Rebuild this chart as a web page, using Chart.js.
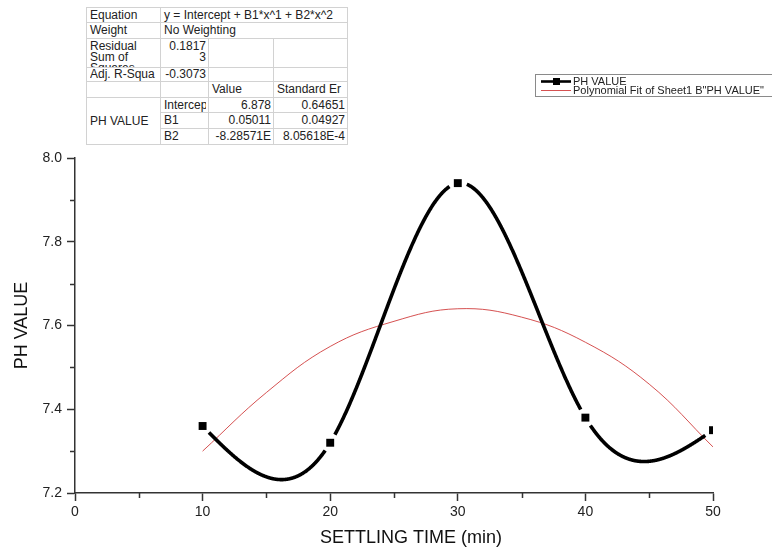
<!DOCTYPE html>
<html>
<head>
<meta charset="utf-8">
<script src="https://cdn.jsdelivr.net/npm/chart.js@4/dist/chart.umd.min.js"></script>
<style>
  html, body { margin: 0; padding: 0; background: #fff; }
  #wrap { position: relative; width: 772px; height: 552px; }
  #chart { position: absolute; left: 0; top: 0; }
  #fit {
    position: absolute; left: 86px; top: 7px; width: 261px;
    border-collapse: collapse; table-layout: fixed;
    font: 12px "Liberation Sans", Arial, sans-serif; color: #222;
    border: 1px solid #8a8a8a; background: #fff;
  }
  #fit td { border: 1px solid #d2d2d2; padding: 0 2px 0 3px; white-space: nowrap; overflow: hidden; vertical-align: middle; line-height: 13px; }
  #fit td.r { text-align: right; }
  #fit .clip { overflow: hidden; white-space: nowrap; }
  #fit .multi { line-height: 11px; height: 28px; overflow: hidden; padding-top: 2px; box-sizing: border-box; }
</style>
</head>
<body>
<div id="wrap">
  <canvas id="chart" width="772" height="552"></canvas>
  <table id="fit">
    <colgroup><col style="width:74px"><col style="width:48px"><col style="width:65px"><col style="width:74px"></colgroup>
    <tbody id="fitBody"></tbody>
  </table>
</div>
<script>
// Measured pH against settling time
const settlingTime = [10, 20, 30, 40, 50];
const phValue = [7.36, 7.32, 7.94, 7.38, 7.35];

// Quadratic fit curve, read at 5-minute steps
const fitTime = [10, 15, 20, 25, 30, 35, 40, 45, 50];
const fitValue = [7.30, 7.44, 7.55, 7.61, 7.64, 7.62, 7.56, 7.46, 7.31];

// Axis ranges and tick steps
const xRange = [0, 50];
const yRange = [7.2, 8.0];
const xMajorStep = 10;
const yMajorStep = 0.2;

// Fit report
const fitEquation = 'y = Intercept + B1*x^1 + B2*x^2';
const fitWeight = 'No Weighting';
const residualLabel = ['Residual', 'Sum of', 'Squares'];
const residualSS = ['0.1817', '3'];
const adjRSquare = '-0.3073';
const paramNames = ['Intercep', 'B1', 'B2'];
const paramValues = ['6.878', '0.05011', '-8.28571E'];
const paramErrors = ['0.64651', '0.04927', '8.05618E-4'];

const legendLabels = ['PH VALUE', 'Polynomial Fit of Sheet1 B"PH VALUE"'];
const xTitle = 'SETTLING TIME (min)';
const yTitle = 'PH VALUE';

const FONT = '"Liberation Sans", Arial, sans-serif';
const FIT_RED = 'rgba(208,62,62,0.9)';

// ---- fit report table ----
(function buildTable() {
  const rows = [];
  const h = [15, 16, 28, 14, 16, 15, 16, 16];
  rows.push(`<tr style="height:${h[0]}px"><td>Equation</td><td colspan="3">${fitEquation}</td></tr>`);
  rows.push(`<tr style="height:${h[1]}px"><td>Weight</td><td colspan="3">${fitWeight}</td></tr>`);
  rows.push(`<tr style="height:${h[2]}px"><td style="vertical-align:top"><div class="multi">${residualLabel.join('<br>')}</div></td>` +
            `<td class="r" style="vertical-align:top"><div class="multi">${residualSS.join('<br>')}</div></td><td></td><td></td></tr>`);
  rows.push(`<tr style="height:${h[3]}px"><td><div class="clip">Adj. R-Squa</div></td><td class="r">${adjRSquare}</td><td></td><td></td></tr>`);
  rows.push(`<tr style="height:${h[4]}px"><td></td><td></td><td>Value</td><td><div class="clip">Standard Er</div></td></tr>`);
  for (let i = 0; i < paramNames.length; i++) {
    const first = i === 0 ? `<td rowspan="${paramNames.length}">PH VALUE</td>` : '';
    rows.push(`<tr style="height:${h[5 + i]}px">${first}<td><div class="clip">${paramNames[i]}</div></td>` +
              `<td class="r">${paramValues[i]}</td><td class="r">${paramErrors[i]}</td></tr>`);
  }
  document.getElementById('fitBody').innerHTML = rows.join('');
})();

// ---- natural cubic spline through the measured points ----
function naturalSpline(xs, ys) {
  const n = xs.length;
  const h = [];
  for (let i = 0; i < n - 1; i++) h.push(xs[i + 1] - xs[i]);
  const a = new Array(n).fill(0), b = new Array(n).fill(1), c = new Array(n).fill(0), d = new Array(n).fill(0);
  for (let i = 1; i < n - 1; i++) {
    a[i] = h[i - 1]; b[i] = 2 * (h[i - 1] + h[i]); c[i] = h[i];
    d[i] = 6 * ((ys[i + 1] - ys[i]) / h[i] - (ys[i] - ys[i - 1]) / h[i - 1]);
  }
  for (let i = 1; i < n; i++) {
    const m = a[i] / b[i - 1];
    b[i] -= m * c[i - 1];
    d[i] -= m * d[i - 1];
  }
  const M = new Array(n).fill(0);
  M[n - 1] = d[n - 1] / b[n - 1];
  for (let i = n - 2; i >= 0; i--) M[i] = (d[i] - c[i] * M[i + 1]) / b[i];
  M[0] = 0; M[n - 1] = 0;
  return function (x) {
    let k = 0;
    while (k < n - 2 && x > xs[k + 1]) k++;
    const hk = h[k], A = xs[k + 1] - x, B = x - xs[k];
    return M[k] * A * A * A / (6 * hk) + M[k + 1] * B * B * B / (6 * hk) +
           (ys[k] / hk - M[k] * hk / 6) * A + (ys[k + 1] / hk - M[k + 1] * hk / 6) * B;
  };
}

// Spline connection with a small gap around each symbol
const splinePlugin = {
  id: 'splineLine',
  afterDatasetsDraw(chart) {
    const xs = chart.scales.x, ys = chart.scales.y, ctx = chart.ctx, area = chart.chartArea;
    const f = naturalSpline(settlingTime, phValue);
    const pts = settlingTime.map((t, i) => [xs.getPixelForValue(t), ys.getPixelForValue(phValue[i])]);
    const gap = 9;
    ctx.save();
    ctx.beginPath();
    ctx.rect(area.left, area.top - 10, area.right - area.left + 10, area.bottom - area.top + 10);
    ctx.clip();
    ctx.strokeStyle = '#000';
    ctx.lineWidth = 3.6;
    ctx.lineJoin = 'round';
    ctx.lineCap = 'butt';
    ctx.beginPath();
    let pen = false;
    const x0 = settlingTime[0], x1 = settlingTime[settlingTime.length - 1];
    const steps = Math.ceil((xs.getPixelForValue(x1) - xs.getPixelForValue(x0)) * 3);
    for (let s = 0; s <= steps; s++) {
      const t = x0 + (x1 - x0) * s / steps;
      const px = xs.getPixelForValue(t), py = ys.getPixelForValue(f(t));
      const near = pts.some(p => Math.hypot(p[0] - px, p[1] - py) < gap);
      if (near) { pen = false; continue; }
      if (!pen) { ctx.moveTo(px, py); pen = true; } else ctx.lineTo(px, py);
    }
    ctx.stroke();
    ctx.restore();
  }
};

// Minor ticks, axis titles and the legend box
const decorPlugin = {
  id: 'decor',
  afterDraw(chart) {
    const ctx = chart.ctx, xs = chart.scales.x, ys = chart.scales.y, area = chart.chartArea;
    ctx.save();
    ctx.strokeStyle = '#333';
    ctx.lineWidth = 1.5;
    ctx.beginPath();
    for (let v = xRange[0] + xMajorStep / 2; v < xRange[1]; v += xMajorStep) {
      const px = Math.round(xs.getPixelForValue(v)) + 0.5;
      ctx.moveTo(px, area.bottom); ctx.lineTo(px, area.bottom + 5);
    }
    for (let k = 0; ; k++) {
      const v = yRange[0] + yMajorStep / 2 + k * yMajorStep;
      if (v > yRange[1] + 1e-9) break;
      const py = Math.round(ys.getPixelForValue(v)) + 0.5;
      ctx.moveTo(area.left, py); ctx.lineTo(area.left - 5, py);
    }
    ctx.stroke();

    // axis titles
    ctx.fillStyle = '#111';
    ctx.font = `18px ${FONT}`;
    ctx.textAlign = 'center';
    ctx.textBaseline = 'middle';
    ctx.fillText(xTitle, 411, 538);
    ctx.save();
    ctx.translate(22, (area.top + area.bottom) / 2);
    ctx.rotate(-Math.PI / 2);
    ctx.fillText(yTitle, 0, 0);
    ctx.restore();

    // legend
    const lx = 535.5, ly = 74.5;
    ctx.strokeStyle = '#8a8a8a';
    ctx.lineWidth = 1;
    ctx.strokeRect(lx, ly, 260, 22);
    const r1 = 81.5, r2 = 90.5;
    ctx.strokeStyle = '#000';
    ctx.lineWidth = 2.6;
    ctx.beginPath(); ctx.moveTo(541, r1); ctx.lineTo(571, r1); ctx.stroke();
    ctx.fillStyle = '#000';
    ctx.fillRect(553, r1 - 3.5, 7, 7);
    ctx.strokeStyle = FIT_RED;
    ctx.lineWidth = 1;
    ctx.beginPath(); ctx.moveTo(541, r2); ctx.lineTo(571, r2); ctx.stroke();
    ctx.fillStyle = '#222';
    ctx.font = `11px ${FONT}`;
    ctx.textAlign = 'left';
    ctx.fillText(legendLabels[0], 573, r1 + 0.5);
    ctx.fillText(legendLabels[1], 573, r2 + 0.5);
    ctx.restore();
  }
};

const isMajor = (v, step) => Math.abs(v / step - Math.round(v / step)) < 1e-6;

new Chart(document.getElementById('chart'), {
  type: 'scatter',
  data: {
    datasets: [
      {
        label: legendLabels[0],
        data: settlingTime.map((t, i) => ({ x: t, y: phValue[i] })),
        showLine: false,
        pointStyle: 'rect',
        pointRadius: 5.6,
        pointHoverRadius: 5.6,
        pointBackgroundColor: '#000',
        pointBorderWidth: 0,
        borderColor: '#000'
      },
      {
        label: legendLabels[1],
        data: fitTime.map((t, i) => ({ x: t, y: fitValue[i] })),
        showLine: true,
        borderColor: FIT_RED,
        borderWidth: 1,
        pointRadius: 0,
        tension: 0.4,
        fill: false
      }
    ]
  },
  options: {
    responsive: false,
    animation: false,
    events: [],
    layout: { padding: { left: 0, top: 158, right: 59, bottom: 0 } },
    plugins: { legend: { display: false }, tooltip: { enabled: false }, title: { display: false } },
    scales: {
      x: {
        type: 'linear', min: xRange[0], max: xRange[1],
        afterFit: s => { s.height = 59; },
        border: { display: true, color: '#333', width: 1.5 },
        grid: {
          drawOnChartArea: false, drawTicks: true, tickLength: 8, tickWidth: 1.5,
          tickColor: c => (c.tick && isMajor(c.tick.value, xMajorStep)) ? '#333' : 'rgba(0,0,0,0)'
        },
        ticks: {
          stepSize: xMajorStep / 2, autoSkip: false, maxRotation: 0, padding: 3,
          color: '#222', font: { family: FONT, size: 14 },
          callback: v => isMajor(v, xMajorStep) ? String(Math.round(v)) : ''
        }
      },
      y: {
        type: 'linear', min: yRange[0], max: yRange[1],
        afterFit: s => { s.width = 75; },
        border: { display: true, color: '#333', width: 1.5 },
        grid: {
          drawOnChartArea: false, drawTicks: true, tickLength: 8, tickWidth: 1.5,
          tickColor: c => (c.tick && isMajor(c.tick.value - yRange[0], yMajorStep)) ? '#333' : 'rgba(0,0,0,0)'
        },
        ticks: {
          stepSize: yMajorStep / 2, autoSkip: false, padding: 5,
          color: '#222', font: { family: FONT, size: 14 },
          callback: v => isMajor(v - yRange[0], yMajorStep) ? v.toFixed(1) : ''
        }
      }
    }
  },
  plugins: [splinePlugin, decorPlugin]
});
</script>
</body>
</html>
